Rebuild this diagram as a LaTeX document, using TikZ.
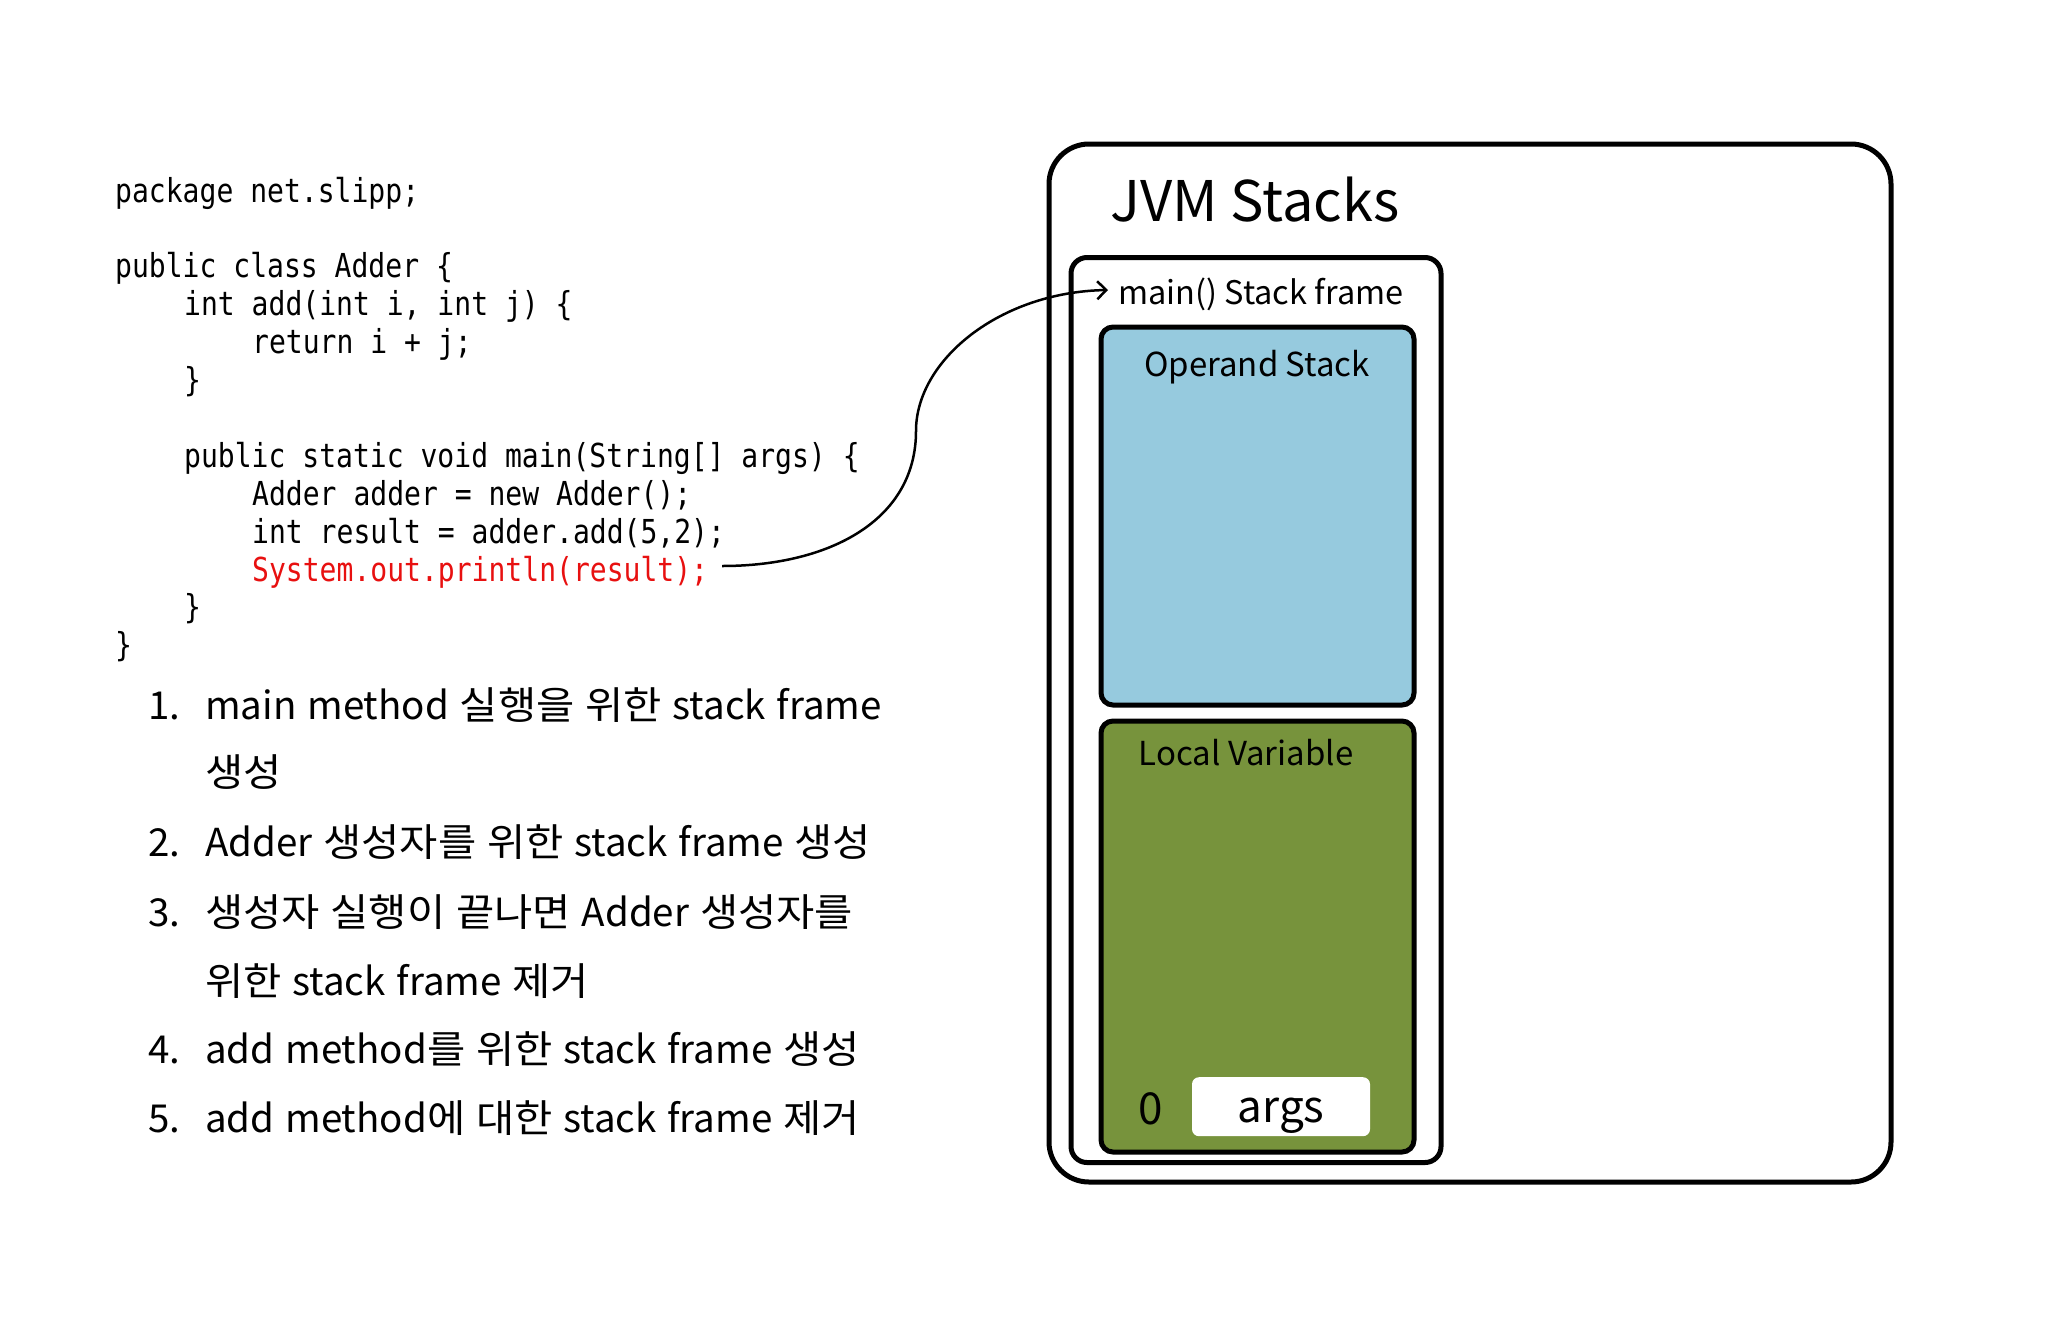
\documentclass[tikz,border=0pt]{standalone}
\usepackage{fontspec}
\setmainfont{Noto Sans CJK KR}
\newfontfamily\itemfont[WordSpace=1.25]{Noto Sans CJK KR}
\newfontfamily\krfont[FakeStretch=1.08]{Noto Sans CJK KR}
\newfontfamily\codefont[FakeStretch=0.85]{DejaVu Sans Mono}
\newcommand\kr[1]{{\krfont #1}}
\usetikzlibrary{arrows.meta}
\definecolor{opblue}{RGB}{150,202,222}
\definecolor{lvgreen}{RGB}{119,147,60}
\definecolor{codered}{RGB}{232,16,16}
\begin{document}
\begin{tikzpicture}[x=1pt,y=-1pt,
  code/.style={anchor=base west, inner sep=0pt, font=\codefont\fontsize{33}{40}\selectfont},
  item/.style={anchor=base west, inner sep=0pt, font=\itemfont\fontsize{38.5}{46}\selectfont},
  lbl/.style={inner sep=0pt, font=\fontsize{33}{40}\selectfont},
  panel/.style={draw, line width=5pt, inner sep=0pt},
  inner/.style={panel, rounded corners=12pt, minimum width=313pt}
]
\path[fill=white] (0,0) rectangle (2048,1326);
\useasboundingbox (0,0) rectangle (2048,1326);

% code
\node[code] (c1) at (115,202) {package net.slipp;};
\node[code] (c2) at (115,277.5) {public class Adder \{};
\node[code] (c3) at (184,315.5) {int add(int i, int j) \{};
\node[code] (c4) at (252,353.5) {return i + j;};
\node[code] (c5) at (184,391.5) {\}};
\node[code] (c6) at (184,467.5) {public static void main(String[] args) \{};
\node[code] (c7) at (252,505) {Adder adder = new Adder();};
\node[code] (c8) at (252,543) {int result = adder.add(5,2);};
\node[code, text=codered] (c9) at (252,581) {System.out.println(result);};
\node[code] (c10) at (184,618.5) {\}};
\node[code] (c11) at (115,656.5) {\}};

% list
\node[item] (n1) at (148,719.6) {1.};
\node[item] (t1) at (205,719.6) {main method \kr{실행을} \kr{위한} stack frame};
\node[item] (t1b) at (205,786) {\kr{생성}};
\node[item] (n2) at (148,856.7) {2.};
\node[item] (t2) at (205,856.7) {Adder \kr{생성자를} \kr{위한} stack frame \kr{생성}};
\node[item] (n3) at (148,926) {3.};
\node[item] (t3) at (205,926) {\kr{생성자} \kr{실행이} \kr{끝나면} Adder \kr{생성자를}};
\node[item] (t3b) at (205,995) {\kr{위한} stack frame \kr{제거}};
\node[item] (n4) at (148,1063) {4.};
\node[item] (t4) at (205,1063) {add method\kr{를} \kr{위한} stack frame \kr{생성}};
\node[item] (n5) at (148,1132) {5.};
\node[item] (t5) at (205,1132) {add method\kr{에} \kr{대한} stack frame \kr{제거}};

% JVM stacks panel
\node[panel, rounded corners=40pt, minimum width=842pt, minimum height=1038pt] (outer) at (1470,663) {};
\node[lbl, anchor=base west, font=\fontsize{56}{66}\selectfont] (title) at (1110,221) {JVM Stacks};
\node[panel, rounded corners=16pt, minimum width=370pt, minimum height=905pt] (frame) at (1256,710) {};
\node[lbl, anchor=base west, font=\fontsize{32.5}{40}\selectfont] (mainlbl) at (1118,304) {main() Stack frame};
\node[inner, fill=opblue, minimum height=378pt] (operand) at (1257.5,516) {};
\node[lbl, anchor=base] (oplbl) at (1257,376) {Operand Stack};
\node[inner, fill=lvgreen, minimum height=431pt] (local) at (1257.5,936.5) {};
\node[lbl, anchor=base] (lvlbl) at (1246,765) {Local Variable};
\node[fill=white, rounded corners=7pt, minimum width=178pt, minimum height=59pt, inner sep=0pt] (argsbox) at (1281,1106.7) {};
\node[lbl, anchor=base, font=\fontsize{44}{50}\selectfont] (zero) at (1151,1124) {0};
\node[lbl, anchor=base, font=\fontsize{44}{50}\selectfont] (argslbl) at (1281,1122) {args};

% arrow
\coordinate (astart) at (722,566);
\coordinate (aend) at (1108,290);
\draw[line width=2.5pt, -{Straight Barb[length=9pt,width=18pt]}]
  (astart) .. controls (830,566) and (916,520) .. (916,431)
  .. controls (916,360) and (1000,292) .. (aend);
\end{tikzpicture}
\end{document}
